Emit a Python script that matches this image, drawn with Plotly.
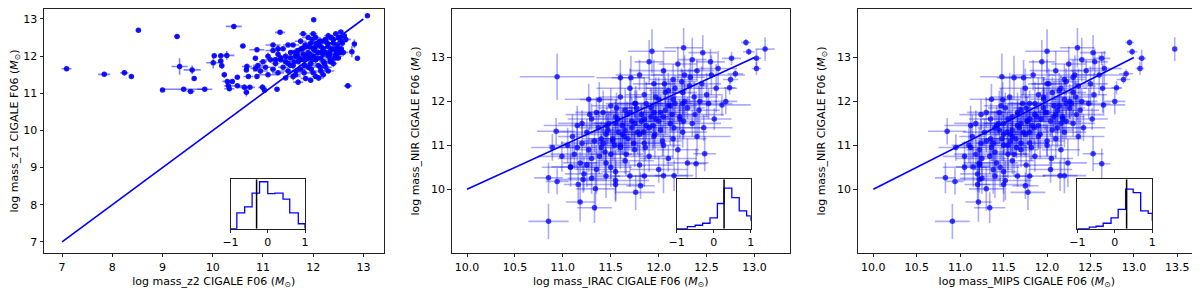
import plotly.graph_objects as go

# ---------------- Panel 1: mass_z2 (x) vs mass_z1 (y) ----------------
z2_x = [7.09, 7.84, 8.24, 8.38, 8.52, 9.00, 9.29, 9.34, 9.42, 9.56,
        9.84, 9.59, 9.63, 10.42, 10.60, 10.03, 10.16, 10.28, 10.01, 10.18,
        10.16, 10.23, 10.49, 10.29, 10.39, 10.31, 10.33, 10.49, 10.63, 10.68,
        10.67, 10.71, 10.74, 10.67, 10.88, 10.85, 10.85, 10.88, 11.03, 10.99,
        11.28, 11.34, 11.45, 12.01, 12.69, 12.82, 12.77, 12.88, 13.08, 12.11,
        10.90, 10.95, 11.00, 11.05, 11.10, 11.10, 11.15, 11.20, 11.20, 11.25,
        11.30, 11.30, 11.35, 11.40, 11.40, 11.45, 11.50, 11.50, 11.55, 11.55,
        11.60, 11.60, 11.65, 11.65, 11.70, 11.70, 11.75, 11.75, 11.80, 11.80,
        11.85, 11.85, 11.90, 11.90, 11.90, 11.95, 11.95, 12.00, 12.00, 12.00,
        12.05, 12.05, 12.10, 12.10, 12.10, 12.15, 12.15, 12.20, 12.20, 12.20,
        12.25, 12.25, 12.30, 12.30, 12.30, 12.35, 12.35, 12.40, 12.40, 12.45,
        12.45, 12.50, 12.50, 12.55, 12.55, 12.60, 12.00, 11.90, 11.70, 11.95,
        12.05, 11.60, 12.20, 12.40, 12.50, 12.30, 11.80, 11.50, 11.30, 11.20]
z1_y = [11.66, 11.51, 11.55, 11.45, 12.70, 11.09, 12.53, 11.72, 11.11, 11.05,
        11.11, 11.63, 11.40, 12.80, 12.27, 12.01, 12.01, 12.02, 11.82, 11.74,
        11.87, 11.50, 11.43, 11.32, 11.32, 11.20, 11.12, 11.20, 11.16, 11.72,
        11.63, 11.45, 11.16, 11.03, 12.17, 11.94, 11.67, 11.45, 11.08, 11.16,
        11.11, 12.64, 11.41, 12.98, 11.20, 12.33, 12.12, 11.94, 13.09, 11.41,
        11.75, 11.60, 11.85, 11.70, 12.00, 11.50, 11.90, 11.65, 12.15, 11.80,
        11.55, 12.05, 11.90, 11.70, 12.20, 12.00, 11.80, 11.60, 12.10, 11.95,
        12.30, 11.75, 11.50, 12.00, 12.15, 11.85, 11.65, 12.40, 12.05, 11.90,
        11.40, 12.25, 11.70, 12.10, 11.95, 12.35, 11.80, 12.00, 11.55, 12.20,
        11.90, 12.50, 11.75, 12.10, 12.30, 11.95, 11.60, 12.20, 12.05, 11.85,
        12.40, 11.70, 12.00, 12.25, 12.55, 11.90, 12.15, 12.35, 11.80, 12.05,
        12.60, 12.20, 11.95, 12.40, 12.65, 12.10, 12.60, 12.50, 11.30, 11.35,
        11.45, 11.45, 11.50, 12.45, 12.50, 11.60, 12.60, 12.30, 12.20, 12.30]
z2_err = [0.10, 0.12, 0.08, 0.03, 0.03, 0.05, 0.06, 0.16, 0.40, 0.08,
          0.15, 0.17, 0.04, 0.16, 0.06, 0.05, 0.06, 0.15, 0.14, 0.05,
          0.05, 0.05, 0.05, 0.10, 0.05, 0.08, 0.10, 0.10, 0.12, 0.10,
          0.05, 0.10, 0.10, 0.05, 0.15, 0.05, 0.10, 0.05, 0.05, 0.08,
          0.05, 0.10, 0.05, 0.03, 0.08, 0.05, 0.05, 0.03, 0.03, 0.10,
          0.10, 0.15, 0.08, 0.12, 0.05, 0.20, 0.10, 0.06, 0.15, 0.08,
          0.12, 0.05, 0.18, 0.10, 0.06, 0.12, 0.08, 0.15, 0.05, 0.10,
          0.12, 0.06, 0.10, 0.08, 0.15, 0.05, 0.10, 0.12, 0.06, 0.08,
          0.10, 0.05, 0.15, 0.08, 0.06, 0.12, 0.10, 0.05, 0.08, 0.12,
          0.06, 0.10, 0.15, 0.05, 0.08, 0.10, 0.12, 0.06, 0.10, 0.08,
          0.05, 0.12, 0.10, 0.06, 0.08, 0.15, 0.05, 0.10, 0.08, 0.12,
          0.06, 0.10, 0.05, 0.08, 0.06, 0.10, 0.08, 0.12, 0.10, 0.05,
          0.08, 0.15, 0.06, 0.10, 0.05, 0.12, 0.08, 0.10, 0.06, 0.15]
z1_err = [0.05, 0.03, 0.07, 0.03, 0.03, 0.03, 0.06, 0.22, 0.03, 0.03,
          0.03, 0.12, 0.04, 0.05, 0.05, 0.05, 0.05, 0.12, 0.15, 0.08,
          0.05, 0.08, 0.04, 0.05, 0.05, 0.08, 0.06, 0.05, 0.08, 0.08,
          0.05, 0.05, 0.05, 0.12, 0.05, 0.05, 0.05, 0.05, 0.03, 0.08,
          0.03, 0.03, 0.03, 0.03, 0.08, 0.12, 0.15, 0.03, 0.03, 0.08,
          0.05, 0.08, 0.04, 0.06, 0.10, 0.05, 0.08, 0.04, 0.06, 0.10,
          0.05, 0.08, 0.04, 0.06, 0.05, 0.10, 0.04, 0.08, 0.05, 0.06,
          0.04, 0.10, 0.05, 0.08, 0.06, 0.04, 0.05, 0.08, 0.10, 0.04,
          0.06, 0.05, 0.08, 0.04, 0.10, 0.05, 0.06, 0.08, 0.04, 0.05,
          0.10, 0.06, 0.04, 0.08, 0.05, 0.06, 0.10, 0.04, 0.05, 0.08,
          0.06, 0.04, 0.10, 0.05, 0.08, 0.06, 0.04, 0.05, 0.10, 0.08,
          0.04, 0.06, 0.05, 0.08, 0.04, 0.10, 0.05, 0.06, 0.08, 0.04,
          0.05, 0.10, 0.06, 0.04, 0.08, 0.05, 0.06, 0.04, 0.10, 0.05]
# dense core of panel 1
z2_core = [11.62, 11.68, 11.72, 11.78, 11.83, 11.88, 11.93, 11.98, 12.03, 12.08,
           12.13, 12.18, 12.23, 12.28, 12.33, 12.38, 12.43, 12.48, 12.53, 12.58,
           11.64, 11.74, 11.84, 11.94, 12.04, 12.14, 12.24, 12.34, 12.44, 12.54,
           11.66, 11.76, 11.86, 11.96, 12.06, 12.16, 12.26, 12.36, 12.46, 12.56,
           11.45, 11.35, 11.25, 11.55, 12.62, 12.65, 12.45, 12.15, 11.98, 11.82]
z1_core = [11.85, 12.05, 11.95, 12.20, 11.75, 12.00, 12.25, 11.90, 12.15, 11.95,
           12.40, 12.10, 11.80, 12.35, 12.05, 12.20, 11.95, 12.30, 12.10, 12.35,
           12.10, 11.90, 12.30, 12.05, 12.25, 11.70, 12.45, 11.85, 12.20, 12.50,
           11.60, 12.20, 12.00, 11.65, 12.35, 12.25, 12.10, 12.50, 12.00, 12.20,
           11.85, 11.95, 11.90, 11.75, 12.55, 12.45, 12.15, 12.40, 12.45, 11.55]
z2_core_err = [0.10, 0.06, 0.15, 0.08, 0.12, 0.05, 0.10, 0.18, 0.06, 0.12,
               0.08, 0.10, 0.05, 0.15, 0.10, 0.06, 0.12, 0.08, 0.10, 0.05,
               0.12, 0.08, 0.06, 0.15, 0.10, 0.05, 0.12, 0.08, 0.10, 0.06,
               0.08, 0.12, 0.10, 0.05, 0.15, 0.06, 0.10, 0.08, 0.12, 0.05,
               0.10, 0.15, 0.08, 0.06, 0.05, 0.10, 0.12, 0.08, 0.06, 0.10]
z1_core_err = [0.05, 0.08, 0.04, 0.10, 0.06, 0.05, 0.08, 0.04, 0.06, 0.10,
               0.05, 0.04, 0.08, 0.06, 0.10, 0.05, 0.04, 0.08, 0.06, 0.05,
               0.08, 0.06, 0.04, 0.05, 0.10, 0.08, 0.05, 0.06, 0.04, 0.08,
               0.06, 0.05, 0.08, 0.10, 0.04, 0.06, 0.05, 0.08, 0.04, 0.06,
               0.05, 0.08, 0.06, 0.04, 0.05, 0.08, 0.06, 0.05, 0.04, 0.10]

# ---------------- Panels 2 & 3: mass_NIR (y) vs mass_IRAC / mass_MIPS (x) ----------------
nir_y = [12.56, 9.27, 10.26, 11.32, 10.95, 10.18, 9.71, 9.58, 9.93, 13.14,
         13.22, 13.11, 13.34, 13.13, 12.98, 12.75, 13.19, 12.50, 12.98, 12.63,
         12.31, 12.00, 11.92, 10.81, 10.58, 12.90, 12.54, 12.54, 12.04, 12.05,
         10.31, 10.31, 10.08, 10.75, 10.51, 10.11, 10.22, 10.01, 10.11,
         11.00, 10.50, 11.20, 10.80, 11.45, 10.60, 11.05, 10.35, 11.30, 10.90,
         11.60, 10.70, 11.10, 10.45, 11.40, 10.95, 11.75, 10.60, 11.25, 11.50,
         10.80, 11.90, 11.10, 10.40, 11.65, 11.30, 10.95, 12.10, 11.45, 10.65,
         11.80, 11.15, 12.30, 10.30, 11.55, 10.90, 11.95, 11.30, 12.60, 10.55,
         11.70, 11.05, 12.15, 11.45, 12.90, 10.75, 11.85, 11.20, 12.40, 11.60,
         10.45, 12.05, 11.35, 12.70, 11.00, 11.80, 12.25, 10.70, 11.50, 12.50,
         11.15, 11.95, 10.90, 12.85, 11.65, 12.20, 11.30, 12.60, 11.85, 10.60,
         12.35, 11.50, 12.95, 12.10, 11.20, 12.70, 11.80, 12.40, 11.40, 12.15,
         11.95, 12.60, 11.60, 12.30, 12.75, 11.60, 11.50, 11.35, 11.75, 11.65,
         11.50, 11.40, 11.90, 11.25, 11.55, 11.75, 12.05, 11.00, 11.15, 11.95,
         10.30, 10.25, 10.20, 10.30]
nir_err = [0.53, 0.40, 0.35, 0.30, 0.30, 0.30, 0.45, 0.35, 0.40, 0.50,
           0.45, 0.40, 0.08, 0.08, 0.20, 0.15, 0.27, 0.10, 0.15, 0.10,
           0.15, 0.30, 0.25, 0.40, 0.35, 0.30, 0.40, 0.50, 0.40, 0.35,
           0.40, 0.35, 0.30, 0.35, 0.45, 0.40, 0.30, 0.50, 0.40,
           0.40, 0.30, 0.50, 0.35, 0.45, 0.25, 0.55, 0.40, 0.30, 0.50,
           0.35, 0.45, 0.25, 0.55, 0.40, 0.30, 0.50, 0.35, 0.45, 0.25,
           0.55, 0.40, 0.30, 0.50, 0.35, 0.45, 0.25, 0.55, 0.40, 0.30,
           0.50, 0.35, 0.45, 0.25, 0.55, 0.40, 0.30, 0.50, 0.35, 0.45,
           0.25, 0.55, 0.40, 0.30, 0.50, 0.35, 0.45, 0.25, 0.55, 0.40,
           0.30, 0.50, 0.35, 0.45, 0.25, 0.55, 0.40, 0.30, 0.50, 0.35,
           0.45, 0.25, 0.55, 0.40, 0.30, 0.50, 0.35, 0.45, 0.25, 0.55,
           0.40, 0.30, 0.50, 0.35, 0.45, 0.25, 0.55, 0.40, 0.30, 0.50,
           0.35, 0.45, 0.25, 0.55, 0.40, 0.30, 0.50, 0.35, 0.45, 0.25,
           0.55, 0.40, 0.30, 0.50, 0.35, 0.45, 0.25, 0.55, 0.40, 0.30,
           0.50, 0.35, 0.45, 0.25]
irac_x = [10.94, 10.85, 10.85, 10.93, 10.89, 10.94, 11.18, 11.33, 11.76, 11.93,
          12.26, 12.46, 12.91, 12.94, 13.02, 13.02, 13.11, 12.75, 12.76, 12.80,
          12.74, 12.70, 12.66, 12.48, 12.39, 12.54, 11.60, 11.71, 11.38, 11.27,
          12.05, 12.16, 11.81, 10.99, 11.08, 11.16, 11.21, 11.34, 11.55,
          11.05, 11.08, 11.10, 11.12, 11.15, 11.18, 11.20, 11.22, 11.25, 11.27,
          11.30, 11.30, 11.33, 11.35, 11.37, 11.40, 11.42, 11.45, 11.45, 11.48,
          11.50, 11.50, 11.52, 11.55, 11.55, 11.58, 11.60, 11.60, 11.62, 11.65,
          11.65, 11.68, 11.70, 11.70, 11.72, 11.75, 11.75, 11.78, 11.80, 11.80,
          11.82, 11.85, 11.85, 11.87, 11.90, 11.90, 11.92, 11.95, 11.95, 11.97,
          12.00, 12.00, 12.02, 12.05, 12.05, 12.07, 12.10, 12.10, 12.12, 12.15,
          12.15, 12.17, 12.20, 12.20, 12.22, 12.25, 12.25, 12.27, 12.30, 12.30,
          12.32, 12.35, 12.35, 12.37, 12.40, 12.40, 12.42, 12.45, 12.47, 12.50,
          12.52, 12.55, 12.58, 12.60, 12.62, 11.85, 11.75, 11.65, 11.95, 12.05,
          11.55, 11.90, 12.10, 11.80, 12.00, 11.70, 12.15, 11.60, 11.40, 12.25,
          11.45, 11.30, 11.55, 11.85]
irac_err = [0.39, 0.21, 0.15, 0.20, 0.22, 0.12, 0.15, 0.18, 0.20, 0.25,
            0.20, 0.15, 0.05, 0.06, 0.05, 0.05, 0.10, 0.08, 0.10, 0.08,
            0.06, 0.12, 0.30, 0.12, 0.10, 0.15, 0.25, 0.20, 0.20, 0.25,
            0.25, 0.20, 0.15, 0.25, 0.20, 0.15, 0.25, 0.20, 0.30,
            0.20, 0.30, 0.15, 0.25, 0.35, 0.18, 0.22, 0.20, 0.30, 0.15,
            0.25, 0.35, 0.18, 0.22, 0.20, 0.30, 0.15, 0.25, 0.35, 0.18,
            0.22, 0.20, 0.30, 0.15, 0.25, 0.35, 0.18, 0.22, 0.20, 0.30,
            0.15, 0.25, 0.35, 0.18, 0.22, 0.20, 0.30, 0.15, 0.25, 0.35,
            0.18, 0.22, 0.20, 0.30, 0.15, 0.25, 0.35, 0.18, 0.22, 0.20,
            0.30, 0.15, 0.25, 0.35, 0.18, 0.22, 0.20, 0.30, 0.15, 0.25,
            0.35, 0.18, 0.22, 0.20, 0.30, 0.15, 0.25, 0.35, 0.18, 0.22,
            0.20, 0.30, 0.15, 0.25, 0.35, 0.18, 0.22, 0.20, 0.30, 0.15,
            0.25, 0.35, 0.18, 0.22, 0.20, 0.30, 0.15, 0.25, 0.35, 0.18,
            0.22, 0.20, 0.30, 0.15, 0.25, 0.35, 0.18, 0.22, 0.20, 0.30,
            0.15, 0.25, 0.35, 0.18]
mips_x = [11.48, 10.91, 10.83, 10.85, 10.95, 10.94, 11.21, 11.34, 11.78, 12.00,
          12.35, 12.53, 12.95, 12.98, 13.09, 13.07, 13.47, 12.88, 12.63, 12.91,
          12.80, 12.78, 12.65, 12.53, 12.63, 12.55, 11.73, 11.62, 11.49, 11.36,
          12.20, 12.15, 11.75, 11.05, 11.15, 11.20, 11.22, 11.30, 11.50,
          11.10, 11.05, 11.14, 11.18, 11.12, 11.22, 11.24, 11.20, 11.28, 11.22,
          11.35, 11.25, 11.30, 11.38, 11.40, 11.36, 11.45, 11.42, 11.50, 11.44,
          11.55, 11.47, 11.58, 11.50, 11.60, 11.54, 11.65, 11.57, 11.66, 11.60,
          11.70, 11.64, 11.75, 11.66, 11.77, 11.70, 11.80, 11.73, 11.84, 11.76,
          11.86, 11.80, 11.90, 11.83, 11.94, 11.86, 11.96, 11.90, 12.00, 11.93,
          12.04, 11.96, 12.06, 12.10, 12.00, 12.12, 12.14, 12.05, 12.16, 12.20,
          12.10, 12.22, 12.16, 12.25, 12.18, 12.30, 12.20, 12.32, 12.26, 12.24,
          12.36, 12.30, 12.40, 12.33, 12.36, 12.45, 12.38, 12.50, 12.42, 12.54,
          12.48, 12.60, 12.52, 12.64, 12.66, 11.80, 11.70, 11.60, 12.00, 12.08,
          11.50, 11.85, 12.14, 11.75, 12.04, 11.66, 12.20, 11.55, 11.35, 12.28,
          11.40, 11.25, 11.52, 11.80]
mips_err = [0.25, 0.20, 0.12, 0.22, 0.20, 0.10, 0.15, 0.18, 0.20, 0.25,
            0.20, 0.15, 0.05, 0.06, 0.05, 0.05, 0.00, 0.08, 0.10, 0.08,
            0.06, 0.12, 0.25, 0.12, 0.10, 0.15, 0.25, 0.20, 0.20, 0.25,
            0.25, 0.20, 0.15, 0.25, 0.20, 0.15, 0.25, 0.20, 0.30,
            0.20, 0.25, 0.15, 0.25, 0.30, 0.18, 0.22, 0.20, 0.25, 0.15,
            0.25, 0.30, 0.18, 0.22, 0.20, 0.25, 0.15, 0.25, 0.30, 0.18,
            0.22, 0.20, 0.25, 0.15, 0.25, 0.30, 0.18, 0.22, 0.20, 0.25,
            0.15, 0.25, 0.30, 0.18, 0.22, 0.20, 0.25, 0.15, 0.25, 0.30,
            0.18, 0.22, 0.20, 0.25, 0.15, 0.25, 0.30, 0.18, 0.22, 0.20,
            0.25, 0.15, 0.25, 0.30, 0.18, 0.22, 0.20, 0.25, 0.15, 0.25,
            0.30, 0.18, 0.22, 0.20, 0.25, 0.15, 0.25, 0.30, 0.18, 0.22,
            0.20, 0.25, 0.15, 0.25, 0.30, 0.18, 0.22, 0.20, 0.25, 0.15,
            0.25, 0.30, 0.18, 0.22, 0.20, 0.25, 0.15, 0.25, 0.30, 0.18,
            0.22, 0.20, 0.25, 0.15, 0.25, 0.30, 0.18, 0.22, 0.20, 0.25,
            0.15, 0.25, 0.30, 0.18]
# dense core of panels 2 & 3
nir_core = [11.05, 11.35, 11.15, 11.60, 11.25, 11.70, 11.40, 11.85, 11.55, 11.95,
            11.65, 12.10, 11.75, 12.20, 11.90, 12.30, 11.60, 12.00,
            10.85, 11.00, 11.20, 11.05, 11.30, 11.45, 11.10, 11.70, 12.45,
            11.45, 11.85, 10.80, 11.95, 10.95, 11.25, 12.40, 11.40, 11.55,
            11.50, 10.55, 11.75, 12.55, 11.70, 12.00, 10.95, 11.70, 10.75, 10.50]
nir_core_err = [0.40, 0.30, 0.50, 0.35, 0.45, 0.30, 0.55, 0.40, 0.35, 0.50,
                0.30, 0.45, 0.40, 0.35, 0.55, 0.30, 0.45, 0.40,
                0.50, 0.35, 0.40, 0.30, 0.45, 0.55, 0.35, 0.40, 0.30,
                0.45, 0.35, 0.50, 0.40, 0.30, 0.55, 0.35, 0.45, 0.40,
                0.30, 0.50, 0.35, 0.40, 0.45, 0.30, 0.50, 0.35, 0.40, 0.45]
irac_core = [11.42, 11.47, 11.52, 11.57, 11.62, 11.67, 11.72, 11.77, 11.82, 11.87,
             11.92, 11.97, 12.02, 12.07, 12.12, 12.17, 12.22, 12.27,
             11.44, 11.54, 11.64, 11.74, 11.84, 11.94, 12.04, 12.14, 12.24,
             11.46, 11.56, 11.66, 11.76, 11.86, 11.96, 12.06, 12.16, 12.26,
             11.20, 11.25, 11.35, 12.33, 12.38, 12.43, 11.15, 11.28, 11.38, 11.50]
mips_core = [11.38, 11.45, 11.48, 11.55, 11.58, 11.66, 11.68, 11.76, 11.78, 11.86,
             11.88, 11.96, 11.98, 12.06, 12.08, 12.16, 12.18, 12.26,
             11.40, 11.50, 11.60, 11.70, 11.80, 11.90, 12.00, 12.10, 12.22,
             11.42, 11.52, 11.62, 11.72, 11.82, 11.92, 12.02, 12.12, 12.22,
             11.18, 11.22, 11.30, 12.30, 12.34, 12.40, 11.12, 11.24, 11.34, 11.46]
core_xerr = [0.20, 0.15, 0.25, 0.30, 0.18, 0.22, 0.20, 0.15, 0.25, 0.30,
             0.18, 0.22, 0.20, 0.15, 0.25, 0.30, 0.18, 0.22,
             0.20, 0.25, 0.15, 0.30, 0.22, 0.18, 0.20, 0.25, 0.15,
             0.30, 0.20, 0.18, 0.25, 0.22, 0.15, 0.20, 0.30, 0.18,
             0.25, 0.20, 0.22, 0.15, 0.30, 0.18, 0.20, 0.25, 0.15, 0.22]

# one-to-one reference lines
line1 = [7, 13]
line23 = [10, 13]

# inset histograms of the differences (relative heights)
h1_edges = [-1.0, -0.83, -0.62, -0.42, -0.22, 0.0, 0.19, 0.41, 0.59, 0.82, 1.0]
h1_vals = [0.32, 0.44, 0.72, 0.95, 0.71, 0.72, 0.60, 0.32, 0.10, 0.0]
h1_med = -0.30
h2_edges = [-1.0, -0.71, -0.50, -0.30, -0.10, 0.10, 0.28, 0.49, 0.69, 0.89, 1.0]
h2_vals = [0.04, 0.07, 0.11, 0.22, 0.51, 0.82, 0.63, 0.36, 0.26, 0.16]
h2_med = 0.28
h3_edges = [-1.0, -0.68, -0.50, -0.31, -0.10, 0.09, 0.29, 0.49, 0.69, 0.89, 1.0]
h3_vals = [0.03, 0.05, 0.11, 0.22, 0.39, 0.80, 0.73, 0.36, 0.31, 0.16]
h3_med = 0.315

# The page body has an 8px margin, so the figure is drawn 8px smaller and
# every screen position below is given in window pixels (offset by 8).
OFF = 8
W, H = 1200 - OFF, 295 - OFF
ML, MR, MT, MB = 44 - OFF, 4, 1, 42     # plot area = window x 44..1196, y 9..253
PW, PH = W - ML - MR, H - MT - MB
FONT = "DejaVu Sans"
FS = 11
BLUE = "#0000ff"

fig = go.Figure()


def scatter_panel(xs, ys, exs, eys, ax, mcolor, ecolor):
    fig.add_trace(go.Scatter(
        x=xs, y=ys, mode="markers", xaxis="x" + ax, yaxis="y" + ax,
        marker=dict(size=5.5, color=mcolor, line=dict(width=0)),
        error_x=dict(type="data", array=exs, visible=True, color=ecolor, thickness=1.6, width=0),
        error_y=dict(type="data", array=eys, visible=True, color=ecolor, thickness=1.6, width=0),
        showlegend=False, hoverinfo="skip"))


scatter_panel(z2_x + z2_core, z1_y + z1_core, z2_err + z2_core_err, z1_err + z1_core_err,
              "", "rgba(0,0,255,0.9)", "rgba(0,0,255,0.5)")
fig.add_trace(go.Scatter(x=line1, y=line1, mode="lines", xaxis="x", yaxis="y",
                         line=dict(color=BLUE, width=1.6), showlegend=False))
scatter_panel(irac_x + irac_core, nir_y + nir_core, irac_err + core_xerr, nir_err + nir_core_err,
              "2", "rgba(0,0,255,0.75)", "rgba(0,0,255,0.33)")
fig.add_trace(go.Scatter(x=line23, y=line23, mode="lines", xaxis="x2", yaxis="y2",
                         line=dict(color=BLUE, width=1.6), showlegend=False))
scatter_panel(mips_x + mips_core, nir_y + nir_core, mips_err + core_xerr, nir_err + nir_core_err,
              "3", "rgba(0,0,255,0.75)", "rgba(0,0,255,0.33)")
fig.add_trace(go.Scatter(x=line23, y=line23, mode="lines", xaxis="x3", yaxis="y3",
                         line=dict(color=BLUE, width=1.6), showlegend=False))

for ax, edges, vals, med in (("4", h1_edges, h1_vals, h1_med),
                             ("5", h2_edges, h2_vals, h2_med),
                             ("6", h3_edges, h3_vals, h3_med)):
    # opaque inset background
    fig.add_trace(go.Scatter(x=[-1, 1, 1, -1, -1], y=[0, 0, 1, 1, 0], mode="lines",
                             fill="toself", fillcolor="white", line=dict(width=0),
                             xaxis="x" + ax, yaxis="y" + ax, showlegend=False, hoverinfo="skip"))
    fig.add_trace(go.Scatter(x=edges, y=[0] + vals, mode="lines", line_shape="hv",
                             line=dict(color=BLUE, width=1.3),
                             xaxis="x" + ax, yaxis="y" + ax, showlegend=False, hoverinfo="skip"))
    fig.add_trace(go.Scatter(x=[med, med], y=[0, 1], mode="lines",
                             line=dict(color="black", width=1.5),
                             xaxis="x" + ax, yaxis="y" + ax, showlegend=False, hoverinfo="skip"))


def xdom(a, b):
    # a, b: window x pixels
    return [max(0.0, (a - OFF - ML) / PW), min(1.0, (b - OFF - ML) / PW)]


def ydom(top, bottom):
    # top, bottom: window y pixels
    y0 = H - MB
    return [max(0.0, (y0 - (bottom - OFF)) / PH), min(1.0, (y0 - (top - OFF)) / PH)]


axis_common = dict(showline=True, linecolor="#222", linewidth=0.9, mirror=True,
                   ticks="outside", ticklen=3.5, tickwidth=0.9, tickcolor="#222",
                   showgrid=False, zeroline=False, automargin=False,
                   tickfont=dict(family=FONT, size=FS, color="black"))
title_font = dict(family=FONT, size=FS, color="black")
msun = " (<i>M</i><sub>⊙</sub>)"

main_y = ydom(9, 253)
fig.update_layout(
    width=W, height=H, margin=dict(l=ML, r=MR, t=MT, b=MB, autoexpand=False),
    paper_bgcolor="white", plot_bgcolor="white",
    font=dict(family=FONT, size=FS, color="black"),
    xaxis=dict(domain=xdom(44, 383.5), range=[6.64, 13.4], tickvals=[7, 8, 9, 10, 11, 12, 13],
               anchor="y",
               title=dict(text="log mass_z2 CIGALE F06" + msun, standoff=4, font=title_font),
               **axis_common),
    yaxis=dict(domain=main_y, range=[6.7, 13.269], tickvals=[7, 8, 9, 10, 11, 12, 13],
               anchor="x",
               title=dict(text="log mass_z1 CIGALE F06" + msun, standoff=4, font=title_font),
               **axis_common),
    xaxis2=dict(domain=xdom(451.7, 790), range=[9.84, 13.37],
                tickvals=[10, 10.5, 11, 11.5, 12, 12.5, 13],
                ticktext=["10.0", "10.5", "11.0", "11.5", "12.0", "12.5", "13.0"],
                anchor="y2",
                title=dict(text="log mass_IRAC CIGALE F06" + msun, standoff=4, font=title_font),
                **axis_common),
    yaxis2=dict(domain=main_y, range=[8.55, 14.103], tickvals=[10, 11, 12, 13],
                anchor="x2",
                title=dict(text="log mass_NIR CIGALE F06" + msun, standoff=9, font=title_font),
                **axis_common),
    xaxis3=dict(domain=xdom(857.7, 1196), range=[9.82, 13.715],
                tickvals=[10, 10.5, 11, 11.5, 12, 12.5, 13, 13.5],
                ticktext=["10.0", "10.5", "11.0", "11.5", "12.0", "12.5", "13.0", "13.5"],
                anchor="y3",
                title=dict(text="log mass_MIPS CIGALE F06" + msun, standoff=4, font=title_font),
                **axis_common),
    yaxis3=dict(domain=main_y, range=[8.55, 14.103], tickvals=[10, 11, 12, 13],
                anchor="x3",
                title=dict(text="log mass_NIR CIGALE F06" + msun, standoff=9, font=title_font),
                **axis_common),
)

inset_y = ydom(179.3, 228.7)
for ax, dom in (("4", xdom(230.5, 305)), ("5", xdom(676.7, 750.7)), ("6", xdom(1077.3, 1152.3))):
    fig.layout["xaxis" + ax] = dict(domain=dom, range=[-1, 1], tickvals=[-1, 0, 1],
                                    anchor="y" + ax, **axis_common)
    fig.layout["yaxis" + ax] = dict(domain=inset_y, range=[0, 1], anchor="x" + ax,
                                    showline=True, linecolor="#222", linewidth=0.9, mirror=True,
                                    automargin=False,
                                    ticks="", showticklabels=False, showgrid=False, zeroline=False)

fig.write_html("out.html")
